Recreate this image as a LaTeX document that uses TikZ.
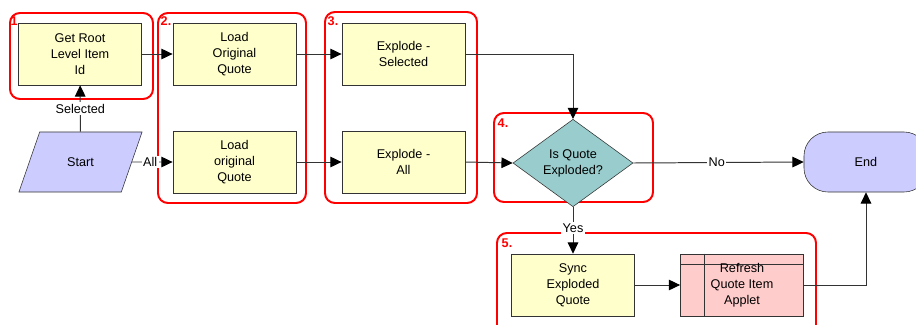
\documentclass[tikz,border=0pt]{standalone}
\usepackage{fontspec}
\setmainfont{Liberation Sans}
\usetikzlibrary{arrows.meta,positioning,shapes.geometric,calc}
\definecolor{taskyellow}{HTML}{FFFFCC}
\definecolor{appletpink}{HTML}{FFCCCC}
\definecolor{termblue}{HTML}{CCCCFF}
\definecolor{decteal}{HTML}{99CCCC}
\definecolor{lineg}{HTML}{333333}

\begin{document}
\begin{tikzpicture}[x=0.025cm,y=-0.025cm,>={Triangle[length=8pt,width=7.5pt,fill=black,color=black]},
  every node/.style={font=\fontsize{9}{11.5}\selectfont},
  task/.style={draw=lineg,fill=taskyellow,minimum width=3.08cm,minimum height=1.55cm,align=center,inner sep=1pt},
  applet/.style={task,fill=appletpink},
  term/.style={draw=lineg,fill=termblue,rounded corners=0.6cm,minimum width=3.1cm,minimum height=1.5cm},
  startshape/.style={draw=lineg,fill=termblue,trapezium,trapezium left angle=63.4,trapezium right angle=116.6,
    trapezium stretches=true,minimum width=3.08cm,minimum height=1.5cm},
  decision/.style={draw=lineg,fill=decteal,diamond,minimum width=3cm,minimum height=1.5cm,inner sep=0pt,align=center},
  group/.style={draw=red,line width=1.4pt,rounded corners=7pt},
  grouplabel/.style={text=red,font=\fontsize{9}{10}\selectfont\bfseries,inner sep=0pt},
  flow/.style={->,draw=lineg,line width=0.7pt},
  flowlabel/.style={fill=white,inner sep=1pt}]
  \useasboundingbox (0,0) rectangle (916,324);

  % Groups
  \draw[group] (10,13) rectangle (153,99);
  \node[grouplabel] (g1) at (16,21) {1.};
  \draw[group] (158,13) rectangle (306,203);
  \node[grouplabel] (g2) at (166,21) {2.};
  \draw[group] (325,12) rectangle (477,203);
  \node[grouplabel] (g3) at (333,21) {3.};
  \draw[group] (494,113) rectangle (653,202);
  \node[grouplabel] (g4) at (503,123) {4.};
  \draw[group] (497,233) rectangle (816,335);
  \node[grouplabel] (g5) at (507,243) {5.};

  % Steps
  \node[task] (root) at (80,54) {Get Root\\Level Item\\Id};
  \node[startshape] (start) at (80.5,162) {Start};
  \node[task] (loadsel) at (234.5,54) {Load\\Original\\Quote};
  \node[task] (loadall) at (234.5,162) {Load\\original\\Quote};
  \node[task] (explsel) at (403.5,54) {Explode -\\Selected};
  \node[task] (explall) at (403.5,162) {Explode -\\All};
  \node[decision] (isexpl) at (573,163) {Is Quote\\Exploded?};
  \node[term] (end) at (866,162) {End};
  \node[task] (sync) at (573,285) {Sync\\Exploded\\Quote};
  \node[applet] (refresh) at (742,285) {};
  \draw[lineg] ([xshift=0.6cm]refresh.north west) -- ([xshift=0.6cm]refresh.south west);
  \draw[lineg] ([yshift=-0.275cm]refresh.north west) -- ([yshift=-0.275cm]refresh.north east);
  \node[align=center] (refreshtxt) at (refresh.center) {Refresh\\Quote Item\\Applet};

  % Connectors
  \draw[flow] (start) -- node[flowlabel] {Selected} (root);
  \draw[flow] (start) -- node[flowlabel,pos=0.45] {All} (loadall);
  \draw[flow] (root) -- (loadsel);
  \draw[flow] (loadsel) -- (explsel);
  \draw[flow] (loadall) -- (explall);
  \draw[flow] (explsel.east) -| (isexpl.north);
  \draw[flow] (explall.east) -- (isexpl.west);
  \draw[flow] (isexpl.east) -- node[flowlabel,pos=0.49] {No} (end.west);
  \draw[flow] (isexpl.south) -- node[flowlabel,pos=0.45] {Yes} (sync.north);
  \draw[flow] (sync) -- (refresh);
  \draw[flow] (refresh.east) -| (end.south);
\end{tikzpicture}
\end{document}
